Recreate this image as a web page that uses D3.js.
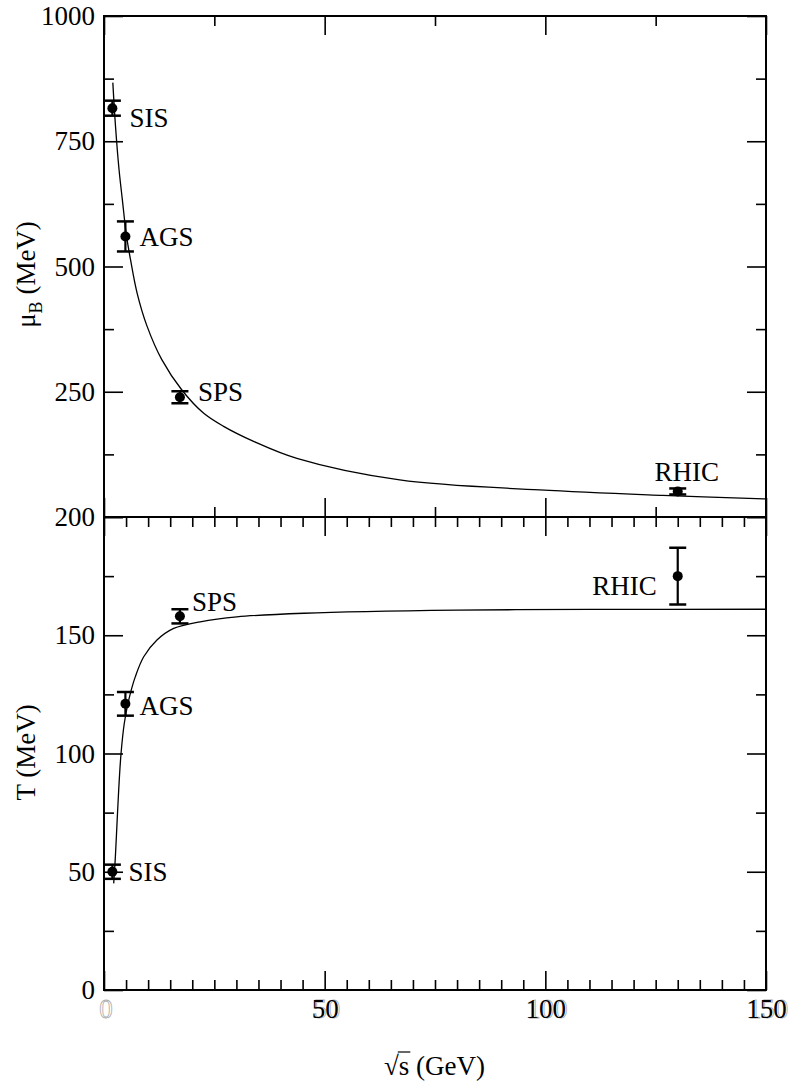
<!DOCTYPE html>
<html>
<head>
<meta charset="utf-8">
<script src="https://cdn.jsdelivr.net/npm/d3@7"></script>
<style>
  body { margin: 0; background: #fff; }
  svg { display: block; font-family: "Liberation Serif", "Times New Roman", serif; }
</style>
</head>
<body>
<script>
"use strict";

// freeze-out points
const experiments = ["SIS", "AGS", "SPS", "RHIC"];
const sqrtS = [1.9, 4.85, 17.2, 130];
const muB = [816, 560, 239, 51];
const muBErr = [15, 30, 12, 6];
const temp = [50, 121, 158, 175];
const tempErr = [3, 5, 3, 12];

// fitted curves, traced point by point
const muCurveS = [2.0, 2.6, 3.4, 4.15, 5.1, 6.0, 7.5, 9.75, 13.1, 17.6, 22.6, 27.1, 33.9, 43.7, 67, 98.7, 126.6, 150];
const muCurveVal = [867, 781, 694, 634, 561, 514, 447, 381, 314, 254, 207, 181, 151, 117, 74, 54, 43, 36];
const tCurveS = [2.2, 2.58, 2.95, 3.33, 3.86, 4.6, 5.6, 7.1, 9.0, 12.0, 15.8, 21.8, 30.1, 45.3, 80, 110, 150];
const tCurveVal = [45.1, 56.4, 70.5, 84.6, 100, 112.8, 122.6, 132.5, 140.9, 148, 152.9, 155.7, 157.8, 159.3, 160.6, 160.9, 161];

// axis ticks
const xMajor = [0, 50, 100, 150];
const xMinorTop = [25, 75, 125];
const xMinorBottom = d3.range(5, 150, 5).filter((v) => v % 50 !== 0);
const muMajor = [0, 250, 500, 750, 1000];
const muMinor = [125, 375, 625, 875];
const tMajor = [0, 50, 100, 150, 200];
const tMinor = [25, 75, 125, 175];

// label placement next to each point (pixels)
const muLabelOffset = [[17, 19, "start"], [14, 10, "start"], [18, 4, "start"], [9, -10, "middle"]];
const tLabelOffset = [[16, 9, "start"], [14, 11, "start"], [12, -5, "start"], [-21, 19, "end"]];

const width = 791;
const height = 1087;
const plotLeft = 104, plotRight = 766, plotTop = 16, plotMid = 517, plotBottom = 990;
const fontSize = 27;

const x = d3.scaleLinear([0, 150], [plotLeft, plotRight]);
const yMu = d3.scaleLinear([0, 1000], [plotMid, plotTop]);
const yT = d3.scaleLinear([0, 200], [plotBottom, plotMid]);

const svg = d3.select("body").append("svg")
  .attr("width", width)
  .attr("height", height)
  .attr("viewBox", [0, 0, width, height]);

/**
 * one set of ticks along an edge
 */
function ticks(axisFn, scale, values, size, at, labels) {
  const g = svg.append("g")
    .attr("transform", at)
    .call(axisFn(scale)
      .tickValues(values)
      .tickSize(-size)
      .tickPadding(9)
      .tickFormat(labels ? d3.format("d") : ""));
  g.attr("font-family", null).attr("font-size", fontSize);
  g.select(".domain").remove();
  g.selectAll(".tick line").attr("stroke", "#000").attr("stroke-width", 1.6);
  g.selectAll(".tick text").attr("fill", "#000");
  return g;
}

// top panel
ticks(d3.axisLeft, yMu, muMajor, 19, `translate(${plotLeft},0)`, true)
  .selectAll(".tick text").filter((d) => d === 0).remove();
ticks(d3.axisLeft, yMu, muMinor, 10, `translate(${plotLeft},0)`, false);
ticks(d3.axisRight, yMu, muMajor, 19, `translate(${plotRight},0)`, false);
ticks(d3.axisRight, yMu, muMinor, 10, `translate(${plotRight},0)`, false);
ticks(d3.axisTop, x, xMajor, 19, `translate(0,${plotTop})`, false);
ticks(d3.axisTop, x, xMinorTop, 10, `translate(0,${plotTop})`, false);
ticks(d3.axisBottom, x, xMajor, 19, `translate(0,${plotMid})`, false);
ticks(d3.axisBottom, x, xMinorTop, 10, `translate(0,${plotMid})`, false);

// bottom panel
ticks(d3.axisLeft, yT, tMajor, 19, `translate(${plotLeft},0)`, true);
ticks(d3.axisLeft, yT, tMinor, 10, `translate(${plotLeft},0)`, false);
ticks(d3.axisRight, yT, tMajor, 19, `translate(${plotRight},0)`, false);
ticks(d3.axisRight, yT, tMinor, 10, `translate(${plotRight},0)`, false);
ticks(d3.axisTop, x, xMajor, 19, `translate(0,${plotMid})`, false);
ticks(d3.axisTop, x, xMinorBottom, 10, `translate(0,${plotMid})`, false);
const xAxisG = ticks(d3.axisBottom, x, xMajor, 19, `translate(0,${plotBottom})`, true);
ticks(d3.axisBottom, x, xMinorBottom, 10, `translate(0,${plotBottom})`, false);

// the grey ghost copies behind the x labels
xAxisG.selectAll(".tick").each(function (d) {
  const tick = d3.select(this);
  const label = tick.select("text");
  tick.insert("text", "text")
    .attr("x", 1.5)
    .attr("y", label.attr("y"))
    .attr("dy", label.attr("dy"))
    .attr("fill", d === 0 ? "#fff" : "none")
    .attr("stroke", "#aaa")
    .attr("stroke-width", 0.8)
    .text(label.text());
  if (d === 0) label.remove();
});

// frames
[[plotTop, plotMid], [plotMid, plotBottom]].forEach(([y0, y1]) => {
  svg.append("rect")
    .attr("x", plotLeft).attr("y", y0)
    .attr("width", plotRight - plotLeft).attr("height", y1 - y0)
    .attr("fill", "none").attr("stroke", "#000").attr("stroke-width", 2);
});

// curves
const muLine = d3.line().x((d) => x(d[0])).y((d) => yMu(d[1])).curve(d3.curveCatmullRom.alpha(0.5));
const tLine = d3.line().x((d) => x(d[0])).y((d) => yT(d[1])).curve(d3.curveCatmullRom.alpha(0.5));

svg.append("path")
  .attr("d", muLine(d3.zip(muCurveS, muCurveVal)))
  .attr("fill", "none").attr("stroke", "#000").attr("stroke-width", 1.3);
svg.append("path")
  .attr("d", tLine(d3.zip(tCurveS, tCurveVal)))
  .attr("fill", "none").attr("stroke", "#000").attr("stroke-width", 1.3);

/**
 * points with error bars and experiment names
 */
function points(yScale, values, errs, offsets) {
  const g = svg.append("g");
  const pts = g.selectAll("g")
    .data(experiments.map((name, i) => ({ name, s: sqrtS[i], v: values[i], e: errs[i], off: offsets[i] })))
    .join("g");

  pts.append("line")
    .attr("x1", (d) => x(d.s)).attr("x2", (d) => x(d.s))
    .attr("y1", (d) => yScale(d.v - d.e)).attr("y2", (d) => yScale(d.v + d.e))
    .attr("stroke", "#000").attr("stroke-width", 2.2);
  [-1, 1].forEach((sgn) => {
    pts.append("line")
      .attr("x1", (d) => x(d.s) - 8.5).attr("x2", (d) => x(d.s) + 8.5)
      .attr("y1", (d) => yScale(d.v + sgn * d.e)).attr("y2", (d) => yScale(d.v + sgn * d.e))
      .attr("stroke", "#000").attr("stroke-width", 2.5);
  });
  pts.append("circle")
    .attr("cx", (d) => x(d.s)).attr("cy", (d) => yScale(d.v))
    .attr("r", 5).attr("fill", "#000");
  pts.append("text")
    .attr("x", (d) => x(d.s) + d.off[0])
    .attr("y", (d) => yScale(d.v) + d.off[1])
    .attr("text-anchor", (d) => d.off[2])
    .attr("font-size", fontSize)
    .text((d) => d.name);
}

points(yMu, muB, muBErr, muLabelOffset);
points(yT, temp, tempErr, tLabelOffset);

// axis titles
const muTitle = svg.append("text")
  .attr("transform", `translate(35,${(plotTop + plotMid) / 2 + 8}) rotate(-90)`)
  .attr("text-anchor", "middle")
  .attr("font-size", fontSize);
muTitle.append("tspan").text("μ");
muTitle.append("tspan").attr("font-size", 18).attr("dy", 7).text("B");
muTitle.append("tspan").attr("dy", -7).text(" (MeV)");

svg.append("text")
  .attr("transform", `translate(35,${(plotMid + plotBottom) / 2 - 1}) rotate(-90)`)
  .attr("text-anchor", "middle")
  .attr("font-size", fontSize)
  .text("T (MeV)");

const xTitle = svg.append("text")
  .attr("x", 384)
  .attr("y", 1075)
  .attr("font-size", fontSize)
  .text("√s (GeV)");

// overline on the s under the root
const sStart = xTitle.node().getStartPositionOfChar(1);
const sEnd = xTitle.node().getEndPositionOfChar(1);
svg.append("line")
  .attr("x1", sStart.x - 1).attr("x2", sEnd.x + 1)
  .attr("y1", 1052).attr("y2", 1052)
  .attr("stroke", "#000").attr("stroke-width", 1.2);
</script>
</body>
</html>
